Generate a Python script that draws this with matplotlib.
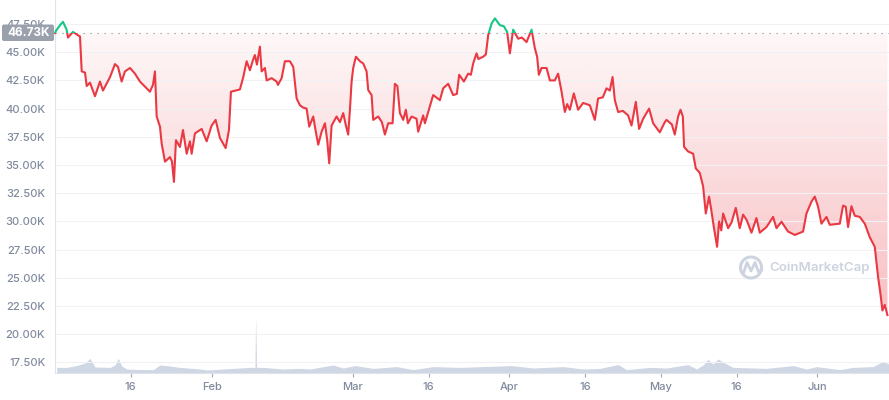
import matplotlib
matplotlib.use('Agg')
import matplotlib.pyplot as plt
import numpy as np
from matplotlib.patches import Rectangle, FancyBboxPatch, Circle, PathPatch
from matplotlib.path import Path

plt.rcParams['font.family'] = ['Inter', 'DejaVu Sans']

# ---- data (days since 2022-01-01, price in thousands USD) ----
day = [0.0, 0.2, 1.0, 1.58, 2.3, 2.57, 3.56, 4.55, 4.95, 5.29, 5.94, 6.28, 6.93, 7.92, 8.91,
       9.5, 10.9, 11.88, 12.48, 13.2, 13.86, 14.85, 15.84, 16.83, 18.16, 18.81, 19.4, 19.8,
       20.14, 20.79, 21.13, 21.78, 22.77, 23.17, 23.56, 23.96, 24.75, 25.35, 26.08, 26.73,
       27.07, 27.72, 29.05, 30.04, 31.03, 31.82, 32.67, 33.8, 34.46, 34.85, 36.63, 37.29,
       37.96, 38.61, 39.21, 39.6, 40.0, 40.59, 40.93, 41.58, 41.92, 42.91, 43.9, 44.16, 44.89,
       45.54, 46.53, 47.19, 47.86, 48.51, 49.1, 49.84, 50.36, 51.15, 51.68, 52.14, 52.81,
       53.47, 53.92, 54.32, 54.79, 55.78, 56.44, 57.09, 57.62, 58.08, 58.42, 58.75, 59.07,
       59.6, 60.4, 61.05, 61.72, 62.04, 62.71, 63.03, 64.02, 64.75, 65.35, 66.0, 66.87,
       67.33, 67.82, 68.32, 68.97, 69.5, 69.9, 70.63, 71.62, 71.94, 72.93, 73.27, 74.26,
       74.91, 76.24, 76.89, 77.88, 78.87, 79.6, 80.06, 80.99, 81.84, 82.38, 82.83, 83.5,
       83.86, 84.81, 85.35, 85.8, 86.48, 87.13, 88.12, 88.91, 89.56, 90.1, 90.75, 91.74,
       92.48, 93.41, 94.4, 95.05, 95.5, 95.84, 96.38, 97.37, 98.02, 99.0, 99.66, 100.34,
       100.99, 101.45, 101.98, 102.77, 103.62, 104.61, 105.94, 106.93, 107.58, 108.51,
       109.25, 109.9, 110.44, 110.89, 111.55, 112.48, 113.52, 114.2, 115.05, 115.7, 116.5,
       117.68, 118.48, 119.8, 120.79, 121.13, 122.18, 122.77, 123.43, 123.9, 124.36, 124.61,
       125.41, 126.4, 126.93, 127.72, 128.38, 128.91, 129.56, 130.0, 130.5, 131.15, 131.54,
       131.98, 132.34, 133.33, 134.0, 134.85, 135.64, 136.3, 137.03, 137.96, 138.95, 139.6,
       140.93, 142.24, 142.91, 143.9, 145.2, 146.53, 148.18, 148.85, 149.84, 150.5, 151.15,
       151.82, 152.81, 153.47, 155.45, 156.1, 156.63, 157.09, 157.76, 158.42, 159.41, 160.4,
       161.39, 162.38, 163.03, 163.5, 163.9, 164.36, 164.89]
price = [46.7, 46.9, 47.4, 47.7, 47.0, 46.3, 46.8, 46.5, 46.4, 43.3, 43.2, 42.0, 42.3, 41.1, 42.4,
         41.6, 42.8, 43.95, 43.7, 42.4, 43.3, 43.6, 43.1, 42.4, 41.8, 41.5, 42.1, 43.3,
         39.3, 38.4, 36.9, 35.3, 35.7, 35.3, 33.5, 37.2, 36.6, 38.1, 36.0, 37.1,
         36.0, 37.8, 38.2, 37.1, 38.5, 39.0, 37.4, 36.5, 38.1, 41.5, 41.7, 42.8,
         44.2, 43.4, 44.3, 44.75, 43.9, 45.5, 43.3, 43.6, 42.5, 42.7, 42.4, 42.1, 42.7,
         44.2, 44.2, 43.7, 40.9, 40.3, 40.1, 40.0, 38.4, 39.3, 37.9, 36.8, 37.95,
         38.7, 37.2, 35.15, 38.5, 39.3, 38.8, 39.6, 38.5, 37.7, 39.9, 42.4, 43.6,
         44.6, 44.2, 44.0, 43.3, 41.65, 41.2, 39.0, 39.3, 38.8, 37.7, 38.7, 38.7,
         42.2, 42.0, 39.6, 39.0, 39.9, 38.7, 39.3, 39.1, 37.95, 39.4, 38.7, 40.2,
         41.2, 40.75, 41.8, 42.2, 41.2, 41.3, 43.0, 42.4, 43.1, 43.0, 44.0, 44.9,
         44.4, 44.6, 44.8, 46.5, 47.55, 48.0, 47.4, 47.3, 46.8, 44.9, 47.0, 46.2,
         46.3, 45.9, 47.0, 45.35, 44.6, 43.0, 43.6, 43.6, 42.5, 42.5, 43.1, 41.5,
         39.7, 40.4, 39.9, 41.35, 39.9, 40.5, 40.3, 39.0, 40.9, 41.0,
         41.8, 41.6, 42.8, 40.75, 39.7, 39.8, 39.4, 38.5, 40.6, 38.2, 39.1,
         40.0, 38.7, 37.9, 38.8, 39.0, 38.6, 37.7, 39.3, 39.9, 39.3, 36.6,
         36.2, 36.0, 34.7, 34.3, 33.1, 30.7, 32.2, 31.0, 29.5, 27.75, 30.0,
         29.2, 30.7, 29.4, 29.9, 31.2, 29.4, 30.6, 30.1, 29.0, 30.3, 29.0,
         29.5, 30.4, 29.4, 29.97, 29.1, 28.8, 29.1, 30.7, 31.75, 32.2, 31.3,
         29.8, 30.4, 29.7, 29.8, 31.4, 31.3, 29.5, 31.35, 30.5, 30.4, 29.8,
         28.6, 27.75, 25.1, 23.6, 22.1, 22.6, 21.7]

vol_day = [0.34, 2.32, 4.3, 5.94, 6.93, 7.92, 10.89, 11.88, 12.53, 13.21, 14.2, 16.83, 19.47,
           20.79, 22.12, 24.75, 28.71, 30.04, 35.31, 38.61, 39.6, 39.74, 39.94, 41.25, 45.21,
           48.51, 50.5, 55.11, 57.09, 59.41, 63.03, 67.66, 70.95, 74.91, 80.2, 86.14, 90.44,
           94.71, 100.65, 104.61, 107.92, 111.55, 113.21, 117.82, 121.13, 125.41, 127.07,
           128.37, 129.37, 130.36, 131.35, 133.01, 134.32, 140.93, 146.2, 148.85, 150.83,
           155.45, 158.08, 162.04, 164.02, 165.15]
vol = [28, 28, 37, 50, 73, 30, 28, 40, 73, 35, 20, 17, 17,
       40, 37, 28, 20, 15, 23, 28, 28, 283, 28, 28, 20,
       23, 20, 40, 25, 37, 23, 32, 17, 32, 28, 33, 37,
       25, 32, 20, 23, 42, 17, 28, 25, 42, 20,
       40, 68, 45, 70, 45, 28, 23, 37, 20, 32,
       17, 28, 32, 58, 45]

baseline = 46.73
tick_days = [15, 31, 59, 74, 90, 105, 120, 135, 151]
tick_labels = ['16', 'Feb', 'Mar', '16', 'Apr', '16', 'May', '16', 'Jun']
y_ticks = [17.5 + 2.5 * i for i in range(13)]

RED = '#ea3943'
GREEN = '#16c784'
GRID = '#eff1f4'
LABEL = '#808a9d'
VOLC = '#cfd6e4'

W, H = 889, 400
fig = plt.figure(figsize=(W / 100, H / 100), dpi=100)
L = 55 / W
B = 27 / H
ax = fig.add_axes([L, B, 1 - L, 1 - B])
axv = fig.add_axes([L, B, 1 - L, 73 / H])
ax.set_zorder(2)
axv.set_zorder(1)
ax.patch.set_visible(False)

XMIN, XMAX = 0, 165.2
YMIN, YMAX = 16.56, 49.63

# volume
axv.fill_between(vol_day, vol, 0, color=VOLC, lw=0)
axv.set_xlim(XMIN, XMAX)
axv.set_ylim(0, 73 * 5)
axv.axis('off')

# gradient fill below baseline
pa = np.array(price)
fc = ax.fill_between(day, price, baseline, where=pa < baseline, interpolate=True,
                     facecolor='none', edgecolor='none')
cp = Path.make_compound_path(*fc.get_paths())
ny = 256
frac = np.linspace(0, 1, ny)
alpha = 0.04 + 0.34 * frac
img = np.zeros((ny, 1, 4))
img[..., 0] = 234 / 255
img[..., 1] = 57 / 255
img[..., 2] = 67 / 255
img[..., 3] = alpha[:, None]
im = ax.imshow(img, extent=[XMIN, XMAX, YMIN, baseline], origin='upper', aspect='auto',
               zorder=1, interpolation='bilinear')
im.set_clip_path(cp, ax.transData)

# grid
for v in y_ticks:
    ax.axhline(v, color=GRID, lw=0.8, zorder=1.5)

# baseline dotted
ax.axhline(baseline, color='#8c93a0', lw=0.8, ls=(0, (1.1, 5.2)), zorder=2)

# price line split by colour
red_clip = Rectangle((-50, -100), 400, baseline + 100, transform=ax.transData)
green_clip = Rectangle((-50, baseline), 400, 100, transform=ax.transData)
l1, = ax.plot(day, price, color=RED, lw=1.5, zorder=3, solid_joinstyle='round')
l1.set_clip_path(red_clip)
l2, = ax.plot(day, price, color=GREEN, lw=1.5, zorder=3, solid_joinstyle='round')
l2.set_clip_path(green_clip)

ax.set_xlim(XMIN, XMAX)
ax.set_ylim(YMIN, YMAX)

ax.set_yticks(y_ticks)
ax.set_yticklabels([f'{v:.2f}K' for v in y_ticks])
ax.tick_params(axis='y', length=0, pad=7, labelsize=8, labelcolor=LABEL)
ax.set_xticks(tick_days)
ax.set_xticklabels(tick_labels)
ax.tick_params(axis='x', length=3, width=0.8, color='#a0a7b4', pad=3.5, labelsize=8,
               labelcolor=LABEL)
for lab in ax.get_yticklabels() + ax.get_xticklabels():
    lab.set_fontweight('medium')

for s in ['top', 'right']:
    ax.spines[s].set_visible(False)
for s in ['left', 'bottom']:
    ax.spines[s].set_color('#dfe3ea')
    ax.spines[s].set_linewidth(0.8)

# overlay in pixel coordinates
ov = fig.add_axes([0, 0, 1, 1])
ov.set_xlim(0, W)
ov.set_ylim(H, 0)
ov.axis('off')
ov.set_zorder(5)
ov.patch.set_visible(False)

box = FancyBboxPatch((2, 24.5), 52, 16.5, boxstyle='round,pad=0,rounding_size=2',
                     fc='#9aa0ac', ec='none')
ov.add_patch(box)
ov.text(28.5, 33, '46.73K', color='white', fontsize=8.5, fontweight='bold',
        ha='center', va='center')

# watermark (drawn under the line)
WM = '#cdd4e0'
circ = Circle((751, 267.5), 10.5, fill=False, ec=WM, lw=2.2, transform=ov.transData, zorder=1.6)
ax.add_artist(circ)
wave = Path([(743.5, 273), (747, 262.5), (751, 271), (755, 262.5), (758.5, 272), (762, 270)])
ax.add_artist(PathPatch(wave, fill=False, ec=WM, lw=2, transform=ov.transData, zorder=1.6,
                        capstyle='round', joinstyle='round'))
ax.text(769, 268, 'CoinMarketCap', color=WM, fontsize=9.6, fontweight='semibold',
        ha='left', va='center', transform=ov.transData, zorder=1.6)

fig.savefig('out.png', dpi=100)
